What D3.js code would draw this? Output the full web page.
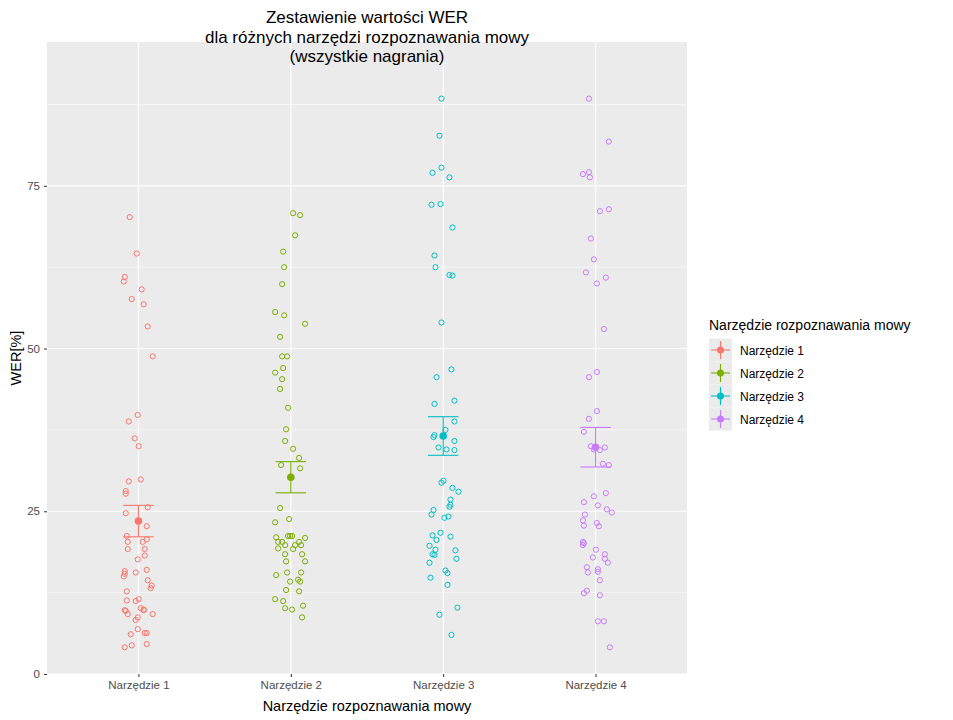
<!DOCTYPE html>
<html><head><meta charset="utf-8">
<script src="https://d3js.org/d3.v7.min.js"></script>
<style>body{margin:0;background:#fff;font-family:"Liberation Sans",Arial,sans-serif}</style>
</head><body><svg id="chart" width="953" height="720"></svg>
<script>
// kategorie i kolory
const tools = ["Narzędzie 1", "Narzędzie 2", "Narzędzie 3", "Narzędzie 4"];
const colors = ["#F8766D", "#7CAE00", "#00BFC4", "#C77CFF"];
const yTicks = [0, 25, 50, 75];

// WER [%], jitter w pikselach oryginału
const wer1 = [70.2,64.6,61.0,60.3,59.1,57.6,56.8,53.4,48.8,39.8,38.8,36.2,35.0,29.6,29.9,28.1,27.7,25.6,24.7,22.7,21.2,20.7,20.3,20.3,19.2,19.2,18.2,17.6,15.8,15.4,15.0,15.6,16.0,14.4,13.6,13.2,12.7,11.3,11.2,11.5,10.1,9.9,9.8,9.8,9.7,9.2,9.2,8.7,8.3,6.9,6.1,6.3,6.3,4.4,4.1,4.6];
const jit1 = [-8.7,-1.7,-13.7,-14.7,3.3,-6.7,5.3,9.3,14.3,-0.7,-9.7,-3.7,0.3,-9.7,2.3,-12.7,-12.7,9.3,-12.7,8.3,-11.7,8.3,-10.7,4.3,-10.7,6.3,6.3,-0.7,-13.7,-13.7,-14.7,-2.7,8.3,9.3,13.3,12.3,-11.7,-11.7,-2.7,0.3,2.3,5.3,5.3,-13.7,-12.7,-10.7,14.3,-0.7,-2.7,-0.7,-7.7,6.3,8.3,-6.7,-13.7,8.3];
const wer2 = [70.8,70.5,67.4,64.9,62.5,59.9,55.6,55.1,53.8,51.8,48.8,48.8,47.0,46.3,45.3,43.8,40.9,37.6,35.8,34.6,33.2,32.1,31.6,25.5,23.3,23.8,21.0,21.2,21.2,21.2,20.9,20.3,20.3,19.8,19.8,20.3,19.8,19.3,19.2,18.4,18.4,17.3,17.3,15.2,15.6,15.6,14.2,14.5,14.2,12.9,12.7,11.5,11.2,10.5,10.1,9.9,8.7];
const jit2 = [2.3,9.3,4.3,-7.7,-6.7,-8.7,-15.7,-6.7,14.3,-10.7,-8.7,-3.7,-7.7,-15.7,-8.7,-10.7,-2.7,-4.7,-5.7,2.3,8.3,-9.7,9.3,-10.7,-15.7,-1.7,-14.7,-2.7,-0.7,1.3,14.3,-12.7,-8.7,-5.7,4.3,8.3,10.3,-12.7,2.3,-5.7,11.3,-4.7,14.3,-14.7,-3.7,10.3,-0.7,7.3,9.3,-4.7,8.3,-15.7,-7.7,12.3,-5.7,1.3,11.3];
const wer3 = [88.4,82.7,77.8,77.0,76.3,72.1,72.2,68.6,64.3,62.5,61.3,61.2,54.0,46.8,45.6,41.5,42.0,38.8,37.5,36.7,36.4,35.8,34.8,34.5,34.4,29.7,29.4,28.6,28.0,26.8,26.0,25.7,25.2,24.5,24.0,24.2,21.7,21.3,21.1,20.6,19.7,19.1,19.0,18.4,18.3,17.7,17.1,15.9,15.5,14.8,13.7,10.2,9.1,6.0];
const jit3 = [-1.7,-3.7,-1.7,-10.7,6.3,-11.7,-2.7,9.3,-8.7,-7.7,6.3,9.3,-1.7,8.3,-6.7,-8.7,11.3,11.3,2.3,-8.7,-9.7,11.3,-4.7,3.3,11.3,0.3,-1.7,9.3,15.3,7.3,7.3,6.3,-9.7,-11.7,1.3,5.3,-2.7,-10.7,7.3,-6.7,-13.7,-7.7,12.3,-10.7,-8.7,13.3,-13.7,2.3,4.3,-12.7,4.3,14.3,-3.7,8.3];
const wer4 = [88.4,81.8,76.8,77.1,76.3,71.1,71.4,66.9,63.7,61.7,60.9,60.0,53.0,46.4,45.6,40.4,39.2,37.2,35.0,34.8,34.4,34.5,32.3,32.1,27.8,27.3,26.4,25.9,25.3,24.8,24.5,23.6,23.2,22.8,22.7,20.3,20.1,19.8,19.1,18.4,17.9,17.7,17.1,16.4,16.1,15.7,15.6,14.4,12.8,12.4,12.1,8.1,8.1,4.1];
const jit4 = [-6.7,13.3,-12.7,-6.7,-5.7,4.3,13.3,-4.7,-1.7,-9.7,10.3,1.3,8.3,1.3,-6.7,1.3,-6.7,-11.7,-4.7,9.3,4.3,-1.7,7.3,13.3,10.3,-1.7,-11.7,2.3,11.3,16.3,-10.7,-12.7,1.3,-11.7,3.3,-12.7,-11.7,-12.7,0.3,9.3,-2.7,9.3,12.3,-8.7,2.3,2.3,-7.7,4.3,-8.7,-11.7,4.3,2.3,8.3,14.3];

const werAll = [wer1, wer2, wer3, wer4];
const jitAll = [jit1, jit2, jit3, jit4];

const svg = d3.select("#chart");
const m = {left: 47, right: 687, top: 42, bottom: 674};

const x = d3.scalePoint().domain(tools).range([m.left, m.right]).padding(0.6);
const y = d3.scaleLinear().domain([0, 97.1]).range([m.bottom, m.top]);
const jScale = x.step() / 152.7;

// panel
svg.append("rect").attr("x", m.left).attr("y", m.top)
  .attr("width", m.right - m.left).attr("height", m.bottom - m.top).attr("fill", "#EBEBEB");

const grid = svg.append("g");
[12.5, 37.5, 62.5, 87.5].forEach(v => grid.append("line")
  .attr("x1", m.left).attr("x2", m.right).attr("y1", y(v)).attr("y2", y(v))
  .attr("stroke", "#fff").attr("stroke-width", 0.55));
yTicks.forEach(v => grid.append("line")
  .attr("x1", m.left).attr("x2", m.right).attr("y1", y(v)).attr("y2", y(v))
  .attr("stroke", "#fff").attr("stroke-width", 1.1));
tools.forEach(t => grid.append("line")
  .attr("x1", x(t)).attr("x2", x(t)).attr("y1", m.top).attr("y2", m.bottom)
  .attr("stroke", "#fff").attr("stroke-width", 1.1));

// punkty
tools.forEach((t, i) => {
  const pts = werAll[i].map((v, k) => ({v, j: jitAll[i][k]}));
  svg.append("g").selectAll("circle").data(pts).enter().append("circle")
    .attr("cx", d => x(t) + d.j * jScale)
    .attr("cy", d => y(d.v))
    .attr("r", 2.6)
    .attr("fill", "none")
    .attr("stroke", colors[i])
    .attr("stroke-width", 1);
});

// średnia +/- błąd standardowy
tools.forEach((t, i) => {
  const vals = werAll[i];
  const mean = d3.mean(vals);
  const se = d3.deviation(vals) / Math.sqrt(vals.length);
  const g = svg.append("g").attr("stroke", colors[i]).attr("stroke-width", 1.1);
  const hw = x.step() * 0.1;
  g.append("line").attr("x1", x(t)).attr("x2", x(t)).attr("y1", y(mean - se)).attr("y2", y(mean + se));
  [mean - se, mean + se].forEach(v => g.append("line")
    .attr("x1", x(t) - hw).attr("x2", x(t) + hw).attr("y1", y(v)).attr("y2", y(v)));
  svg.append("circle").attr("cx", x(t)).attr("cy", y(mean)).attr("r", 3.8).attr("fill", colors[i]);
});

// osie
const yAxis = svg.append("g").attr("transform", `translate(${m.left},0)`)
  .call(d3.axisLeft(y).tickValues(yTicks).tickSize(3).tickPadding(4));
const xAxis = svg.append("g").attr("transform", `translate(0,${m.bottom})`)
  .call(d3.axisBottom(x).tickSize(3).tickPadding(4));
[xAxis, yAxis].forEach(a => {
  a.select(".domain").remove();
  a.selectAll(".tick line").attr("stroke", "#333");
  a.selectAll(".tick text").attr("fill", "#4D4D4D").style("font-size", "11.5px")
    .style("font-family", "Liberation Sans, Arial, sans-serif");
});

svg.append("text").attr("x", (m.left + m.right) / 2).attr("y", 711).attr("text-anchor", "middle")
  .style("font-size", "14.5px").text("Narzędzie rozpoznawania mowy");
svg.append("text").attr("transform", `translate(21,${(m.top + m.bottom) / 2}) rotate(-90)`)
  .attr("text-anchor", "middle").style("font-size", "14.5px").text("WER[%]");

const titleLines = ["Zestawienie wartości WER", "dla różnych narzędzi rozpoznawania mowy", "(wszystkie nagrania)"];
svg.append("g").selectAll("text").data(titleLines).enter().append("text")
  .attr("x", (m.left + m.right) / 2).attr("y", (d, i) => 23 + i * 19.5)
  .attr("text-anchor", "middle").style("font-size", "17px").text(d => d);

// legenda
const lg = svg.append("g").attr("transform", "translate(709,0)");
lg.append("text").attr("x", 0).attr("y", 330).style("font-size", "14px").text("Narzędzie rozpoznawania mowy");
tools.forEach((t, i) => {
  const cy = 350 + i * 23;
  lg.append("rect").attr("x", 0).attr("y", cy - 11.5).attr("width", 23).attr("height", 23).attr("fill", "#EBEBEB");
  const g = lg.append("g").attr("stroke", colors[i]).attr("stroke-width", 1.1);
  g.append("line").attr("x1", 2).attr("x2", 21).attr("y1", cy).attr("y2", cy);
  g.append("line").attr("x1", 11.5).attr("x2", 11.5).attr("y1", cy - 9).attr("y2", cy + 9);
  lg.append("circle").attr("cx", 11.5).attr("cy", cy).attr("r", 3.5).attr("fill", colors[i]);
  lg.append("text").attr("x", 31).attr("y", cy + 4.5).style("font-size", "12px").text(t);
});
</script></body></html>
